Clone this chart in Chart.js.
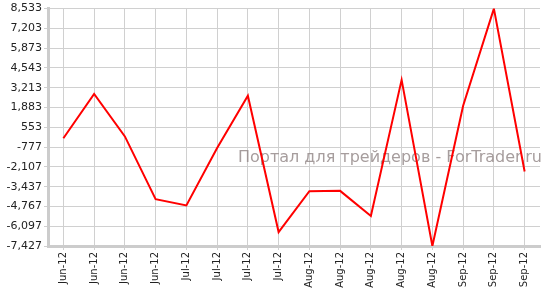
<!DOCTYPE html>
<html>
<head>
<meta charset="utf-8">
<script src="https://cdn.jsdelivr.net/npm/chart.js@4.4.0/dist/chart.umd.min.js"></script>
<style>
  html, body { margin: 0; padding: 0; background: #fff; }
  #wrap { width: 549px; height: 291px; }
</style>
</head>
<body>
<div id="wrap"><canvas id="chart" width="549" height="291"></canvas></div>
<script>
const labels = ['Jun-12', 'Jun-12', 'Jun-12', 'Jun-12', 'Jul-12', 'Jul-12', 'Jul-12', 'Jul-12',
    'Aug-12', 'Aug-12', 'Aug-12', 'Aug-12', 'Aug-12', 'Sep-12', 'Sep-12', 'Sep-12'];
const values = [-180, 2790, -60, -4280, -4700, -840, 2680, -6490,
    -3740, -3720, -5410, 3740, -7427, 2000, 8533, -2420];
const yTicks = [-7427, -6097, -4767, -3437, -2107, -777, 553, 1883, 3213, 4543, 5873, 7203, 8533];
const watermark = 'Портал для трейдеров - ForTrader.ru';

// watermark drawn under the line
const watermarkPlugin = {
    id: 'watermark',
    beforeDatasetsDraw(chart) {
        const ctx = chart.ctx;
        ctx.save();
        ctx.font = '16px "DejaVu Sans"';
        ctx.fillStyle = 'rgba(150, 140, 140, 0.85)';
        ctx.textAlign = 'right';
        ctx.textBaseline = 'alphabetic';
        ctx.fillText(watermark, 542, 162);
        ctx.restore();
    }
};

const ctx = document.getElementById('chart').getContext('2d');
new Chart(ctx, {
    type: 'line',
    data: {
        labels: labels,
        datasets: [{
            data: values,
            borderColor: '#ff0000',
            borderWidth: 2,
            pointRadius: 0,
            tension: 0,
            fill: false
        }]
    },
    plugins: [watermarkPlugin],
    options: {
        responsive: false,
        animation: false,
        layout: { padding: { top: 7, right: 9, left: 0, bottom: 0 } },
        plugins: {
            legend: { display: false },
            tooltip: { enabled: false }
        },
        scales: {
            x: {
                offset: true,
                grid: { color: '#d0d0d0', lineWidth: 1, tickLength: 4, offset: false },
                border: { color: '#cccccc', width: 3 },
                ticks: {
                    autoSkip: false,
                    maxRotation: 90,
                    minRotation: 90,
                    color: '#222',
                    padding: 2,
                    font: { family: 'DejaVu Sans', size: 10 }
                },
                afterFit(scale) { scale.height = 45; }
            },
            y: {
                min: -7427,
                max: 8533,
                grid: { color: '#d0d0d0', lineWidth: 1, tickLength: 4 },
                border: { color: '#cccccc', width: 3 },
                afterBuildTicks(scale) {
                    scale.ticks = yTicks.map(v => ({ value: v }));
                },
                ticks: {
                    color: '#222',
                    padding: 2,
                    font: { family: 'DejaVu Sans', size: 11 },
                    callback: v => v.toLocaleString('en-US')
                },
                afterFit(scale) { scale.width = 48; }
            }
        }
    }
});
</script>
</body>
</html>
